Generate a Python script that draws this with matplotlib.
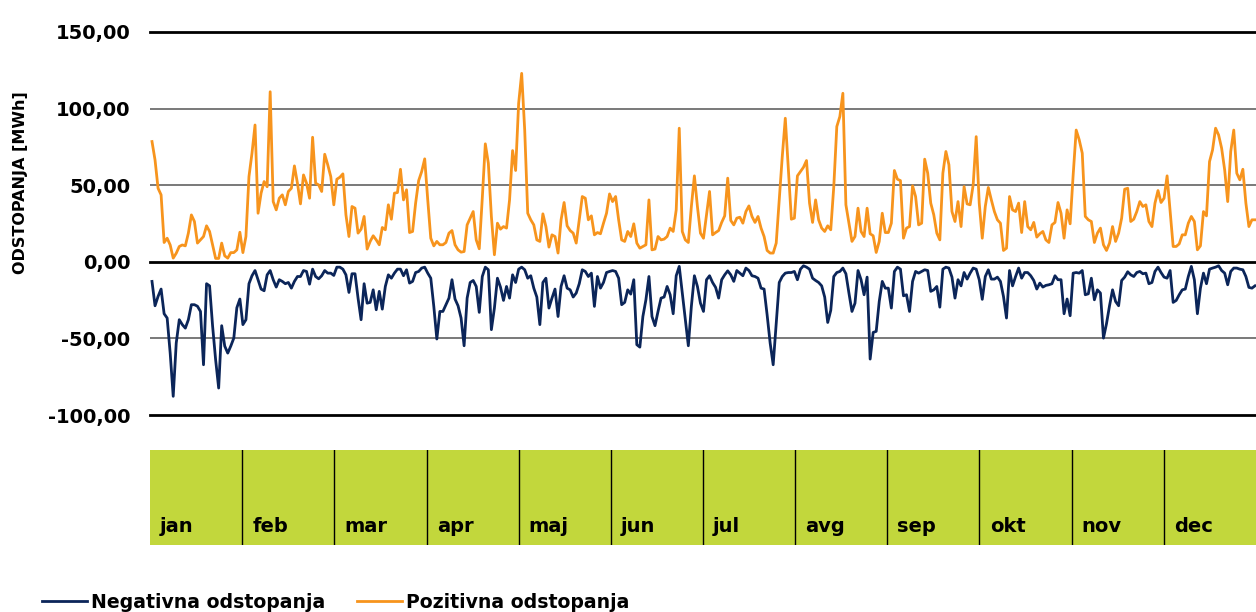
import numpy as np
import matplotlib
matplotlib.use('Agg')
import matplotlib.pyplot as plt

months = ['jan', 'feb', 'mar', 'apr', 'maj', 'jun', 'jul', 'avg', 'sep', 'okt', 'nov', 'dec']
yticks = [-100, -50, 0, 50, 100, 150]

# daily values (MWh), one line per month
pozitivna = [
    78.5, 66.5, 48, 43.7, 12.6, 15.4, 11, 2.4, 5.6, 10, 11, 10.4, 18.7, 30.6, 26.3, 12.2, 14.3, 16.5, 23.5, 19.8, 11, 2.2, 2.2, 12.2, 3.9, 2.4, 6, 6, 7.8, 19.3, 6,
    16.5, 55.6, 70.9, 89.3, 31.7, 44.8, 52.4, 49, 111, 39.3, 33.9, 41.5, 43.7, 37.2, 45.9, 48, 62.6, 51.3, 37.8, 56.7, 51.3, 41.5, 81.3, 51.3, 50.2, 45.9, 70.2, 63.3, 55.6, 37.2,
    53.9, 55.2, 57.4, 30.7, 16.5, 36.1, 35, 18.7, 21.3, 29.6, 8.3, 13.3, 17, 14.3, 11.1, 22.4, 20.9, 37.2, 27.8, 44.8, 45.2, 60.4, 40.4, 47, 19.1, 19.8, 38.3, 53, 58.9, 67.2, 40.4,
    15.4, 10.4, 13.3, 11.1, 11.1, 12.6, 18.7, 20.4, 11.1, 7.8, 6.3, 6.7, 24.1, 28.5, 32.8, 14.3, 8.5, 41.5, 77, 64.3, 29.6, 4.6, 25.2, 21.3, 23, 22, 40.4, 72.6, 59.6, 103.5,
    123, 86, 31.7, 27.4, 24.1, 14.3, 13.3, 31.3, 23, 9.6, 17.6, 16.5, 5.7, 27.4, 38.7, 23.5, 20.4, 18.7, 12.2, 27.4, 42.6, 41.5, 27.4, 30, 17.6, 19.1, 18.3, 25.2, 31.7, 44.3, 39.3,
    42.6, 27.4, 14.3, 13.3, 19.8, 16.5, 24.8, 12.2, 8.9, 10, 11.1, 40.4, 7.8, 8.3, 16.5, 14.3, 14.8, 16.5, 22, 19.8, 33.9, 87.2, 19.8, 14.3, 12.6, 36.1, 56.1, 36.1, 18.7, 15.4,
    30.7, 45.9, 17.6, 19.1, 20.4, 25.7, 30, 54.6, 27, 24.1, 28.5, 29.1, 25.2, 32.8, 36.5, 29.6, 25.7, 29.6, 22, 16.5, 7.4, 5.7, 5.7, 12.2, 40.4, 68.7, 93.7, 61.1, 27.8, 28.5,
    56.1, 58.9, 61.7, 66.1, 38.3, 25.7, 40.4, 27.4, 22, 19.8, 23.5, 20.9, 49.1, 88.3, 94.8, 110, 37.2, 25.2, 13.3, 16.5, 35, 19.8, 16.5, 35, 18.3, 17, 6.1, 13.3, 31.7, 19.1, 19.1,
    25.2, 59.6, 53.9, 53, 15.4, 22, 23, 49.6, 42.6, 24.1, 25.2, 67, 57.8, 38.3, 30.7, 18.7, 14.3, 57.8, 72, 63.3, 32.8, 26.3, 39.3, 23, 49.1, 37.8, 37.2, 50.2, 81.7, 38.3, 15.4,
    36.1, 48.5, 40.4, 32.8, 27.4, 25.2, 7.4, 8.9, 42.6, 33.9, 32.8, 38.3, 19.1, 39.3, 23, 20.9, 25.7, 16.1, 18.3, 19.8, 14.3, 12.6, 24.1, 25.7, 38.7, 31.7, 15.4, 33.9, 24.8, 56.7,
    86, 79.6, 70.9, 29.6, 27.4, 26.3, 12.6, 18.7, 22, 11.1, 7.4, 12.2, 23, 13.3, 18.7, 28.5, 47.4, 48, 26.3, 27.8, 32.8, 39.3, 36.1, 37.2, 26.3, 23, 38.3, 46.5, 38.7, 41.5, 56.1,
    32.8, 10, 10, 11.7, 17.6, 17.6, 25.2, 29.6, 26.3, 7.8, 10.4, 32.8, 30, 65.4, 73, 87.2, 82.8, 74.1, 60, 39.3, 72, 86, 57.8, 53.5, 60.4, 38.3, 23, 27.4, 27.4,
]

negativna = [
    -12.8, -28.7, -22.6, -17.8, -33.9, -36.7, -59.6, -87.8, -53, -37.8, -41, -43.3, -37.8, -28, -28, -29, -32.4, -67.2, -14.3, -15.7, -42, -64, -82.4, -41.7, -55, -59.6, -55, -49.8, -30, -24.3, -41,
    -37.8, -14.3, -9.1, -5.7, -11.7, -17.8, -18.9, -8.5, -5.7, -11.7, -16.5, -11.7, -12.8, -14.3, -13.5, -17.2, -12.8, -9.6, -9.6, -5.7, -6.3, -14.6, -4.8, -9.6, -11.1, -9.1, -5.7, -7.4, -7.4, -8.9,
    -3.5, -3.5, -4.8, -8.5, -20, -7.8, -7.8, -23.7, -37.8, -14.3, -27, -26.5, -18.3, -31.3, -19.3, -30.9, -16.1, -8.5, -10.7, -7.4, -4.8, -4.8, -9.1, -5.2, -13.9, -12.8, -7, -6.3, -4.1, -3.5, -7.4,
    -10.7, -29.1, -50.4, -32.4, -32.4, -28, -23.7, -11.7, -24.3, -28.7, -36.7, -54.8, -23.7, -13.5, -12.2, -16.1, -33, -9.6, -3.5, -5.2, -44.3, -30.2, -10.7, -16.5, -25.2, -16.1, -23.7, -8.5, -13.5, -4.8,
    -3.5, -5.2, -10.7, -9.1, -17.2, -23, -41, -13.5, -10.7, -30.2, -23.7, -17.8, -35.7, -16.1, -9.1, -17.2, -18.3, -23, -20.4, -14.3, -5.2, -6.3, -9.6, -7.4, -29.1, -9.6, -17.2, -13.5, -7, -6.3, -5.7,
    -6.3, -10.7, -28, -26.5, -18.3, -21.1, -11.7, -54.1, -55.7, -35.7, -24.8, -9.6, -35.7, -41.7, -32.4, -23.7, -23, -16.1, -21.5, -33.9, -9.1, -3, -20.4, -37.8, -54.8, -29.1, -9.1, -16.1, -27, -32.4,
    -11.7, -9.1, -13.5, -16.7, -23.7, -11.7, -8.5, -5.9, -8.5, -12.8, -5.7, -7.4, -9.1, -4.1, -5.7, -9.1, -9.6, -10.7, -17.2, -17.8, -34.6, -53, -67.2, -40, -13.5, -9.6, -7.4, -7, -7, -6.3,
    -11.7, -4.8, -2.6, -3.5, -4.8, -10.7, -12.2, -13.5, -15.7, -23, -39.6, -31.7, -9.6, -7, -6.3, -4.1, -7.8, -20.4, -32.4, -27, -5.7, -11.7, -21.5, -10, -63.5, -46.1, -45.4, -25.9, -12.8, -17.2, -17.2,
    -30.2, -6.3, -3.5, -4.8, -22.2, -21.5, -32.4, -12.8, -6.3, -7.4, -6.3, -5.2, -5.7, -19.3, -18.3, -16.1, -29.6, -4.8, -3.5, -4.1, -10, -23.7, -11.7, -15.7, -7, -11.3, -7.4, -4.1, -4.8, -11.7, -24.5,
    -9.6, -5.2, -11.3, -11.3, -10, -12.8, -22.6, -36.7, -5.7, -15.7, -9.6, -4.1, -10.7, -7, -7, -9.1, -12.2, -17.8, -13.9, -16.5, -15.4, -15, -14.3, -9.1, -11.7, -11.7, -33.9, -24.3, -35.2, -7.4,
    -7, -7.4, -5.7, -21.5, -20.9, -10.7, -24.8, -18.3, -20.4, -49.8, -40.4, -28.7, -18.3, -25.9, -28.7, -12.2, -10, -6.5, -8.5, -9.6, -7, -6.3, -7.8, -7.4, -14.3, -13.5, -6.3, -3.5, -7, -10, -10.7,
    -5.7, -26.5, -25.2, -21.5, -18.3, -17.8, -9.6, -3, -11.7, -33.9, -17.2, -7.4, -14.3, -4.8, -4.1, -3.5, -2.6, -5.7, -7.4, -15, -6.3, -4.1, -4.1, -4.8, -5.2, -9.6, -16.7, -17.2, -15.7,
]

plt.rcParams['font.family'] = ['DejaVu Sans']
plt.rcParams['font.weight'] = 'bold'

W, H = 1256, 612
fig = plt.figure(figsize=(W / 100, H / 100), dpi=100)

# main line chart
ax = fig.add_axes([150 / W, 1 - 415 / H, 1106 / W, 383 / H])
days = np.arange(len(pozitivna))
ax.plot(days, negativna, color='#0b2559', lw=2, label='Negativna odstopanja', zorder=3)
ax.plot(days, pozitivna, color='#f7941d', lw=2, label='Pozitivna odstopanja', zorder=3)
ax.set_xlim(-0.66, len(days) - 0.66)
ax.set_ylim(-100, 150)

for v in yticks:
    if v in (150, 0, -100):
        ax.axhline(v, color='black', lw=2, zorder=1, clip_on=False)
    else:
        ax.axhline(v, color='#6e6e6e', lw=1.3, zorder=1)

ax.set_yticks(yticks)
ax.set_yticklabels([f'{v:.2f}'.replace('.', ',') for v in yticks])
ax.tick_params(axis='y', length=0, pad=14, labelsize=14)
ax.set_xticks([])
for s in ax.spines.values():
    s.set_visible(False)
ax.set_ylabel('ODSTOPANJA [MWh]', fontsize=11.5, fontweight='bold')
ax.yaxis.set_label_coords(-0.110, 0.608)

# month strip below the chart
tab = fig.add_axes([150 / W, 1 - 545 / H, 1106 / W, 95 / H])
tab.set_facecolor('#c2d73c')
tab.set_xlim(0, len(months))
tab.set_ylim(0, 1)
for k in range(1, len(months)):
    tab.axvline(k, color='black', lw=1)
for k, m in enumerate(months):
    tab.text(k + 0.11, 0.19, m, fontsize=14, fontweight='bold', va='center', ha='left')
tab.set_xticks([])
tab.set_yticks([])
for s in tab.spines.values():
    s.set_visible(False)

handles, labels = ax.get_legend_handles_labels()
fig.legend(handles, labels, loc='center left', bbox_to_anchor=(42 / W, 1 - 602 / H),
           ncol=2, frameon=False, fontsize=13.6, handlelength=2.4, handletextpad=0.2,
           columnspacing=1.65, borderpad=0, borderaxespad=0)

fig.savefig('out.png', dpi=100)
